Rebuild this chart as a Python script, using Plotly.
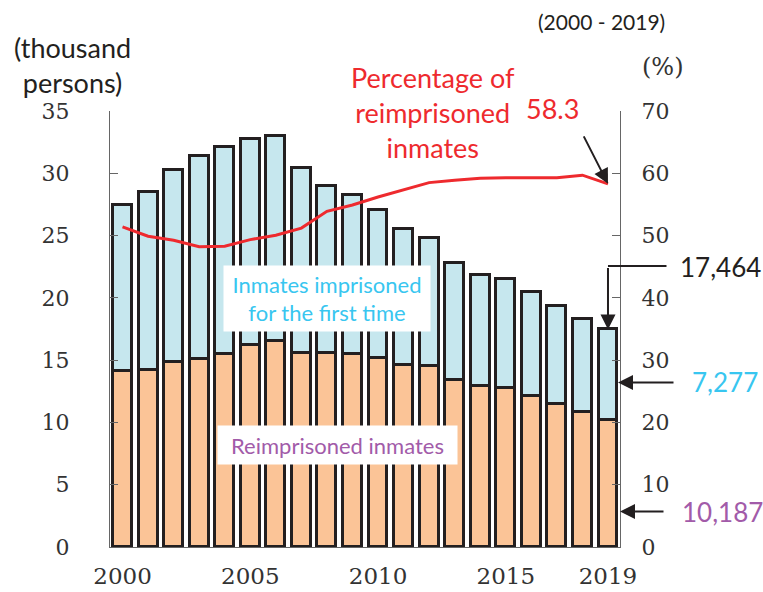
import plotly.graph_objects as go

years = list(range(2000, 2020))
reimprisoned = [14.11, 14.19, 14.86, 15.10, 15.53, 16.25, 16.52, 15.58, 15.61, 15.53,
                15.18, 14.65, 14.51, 13.39, 12.96, 12.77, 12.10, 11.44, 10.87, 10.187]
total = [27.49, 28.53, 30.28, 31.36, 32.09, 32.79, 33.03, 30.45, 28.96, 28.29,
         27.08, 25.50, 24.78, 22.76, 21.87, 21.54, 20.47, 19.34, 18.27, 17.464]
first_time = [round(t - r, 3) for t, r in zip(total, reimprisoned)]
reimp_rate = [51.4, 49.9, 49.25, 48.2, 48.3, 49.35, 50.05, 51.2, 53.9, 54.9,
              56.2, 57.4, 58.5, 58.9, 59.2, 59.3, 59.35, 59.3, 59.7, 58.3]
y_ticks = [0, 5, 10, 15, 20, 25, 30, 35]
y2_ticks = [0, 10, 20, 30, 40, 50, 60, 70]
x_ticks = [2000, 2005, 2010, 2015, 2019]

W, H = 763, 592
L, R, T, B = 110, 620, 111, 547


def pxx(x):
    return (x - L) / (R - L)


def pyy(y):
    return (B - y) / (B - T)


OUT = "#231F20"
ORANGE = "#FBC497"
BLUE = "#C6E7EE"
RED = "#EE2A2E"
SKY = "#38C6F0"
PURPLE = "#A25BA9"
AX = "#666666"
SANS = "Lato"
SERIF = "DejaVu Serif"

fig = go.Figure()
fig.add_trace(go.Bar(x=years, y=reimprisoned, width=0.74,
                     marker=dict(color=ORANGE, line=dict(color=OUT, width=3)),
                     showlegend=False))
fig.add_trace(go.Bar(x=years, y=first_time, width=0.74,
                     marker=dict(color=BLUE, line=dict(color=OUT, width=3)),
                     showlegend=False))
fig.add_trace(go.Scatter(x=years, y=reimp_rate, yaxis="y2", mode="lines",
                         line=dict(color=RED, width=3), showlegend=False))

ann = []


def text(x, y, t, size, color, family=SANS, xanchor="center", **kw):
    ann.append(dict(x=pxx(x), y=pyy(y), xref="paper", yref="paper", text=t,
                    showarrow=False, xanchor=xanchor, yanchor="middle",
                    font=dict(family=family, size=size, color=color), **kw))


text(72, 65, "(thousand<br>persons)", 27, OUT)
text(601, 21, "(2000 - 2019)", 21, OUT)
text(663, 67, "(%)", 24, "#333333", family=SERIF)
text(433, 113, "Percentage of<br>reimprisoned<br>inmates", 27, RED)
text(552, 108, "58.3", 27, RED)
text(678, 267, "17,464", 26, OUT, xanchor="left")
text(690, 382, "7,277", 26, SKY, xanchor="left")
text(680, 512, "10,187", 26, PURPLE, xanchor="left")
text(327, 298, "Inmates imprisoned<br>for the first time", 22, SKY,
     bgcolor="white", width=198, height=57, borderpad=4)
text(337, 445, "Reimprisoned inmates", 22, PURPLE,
     bgcolor="white", width=231, height=30, borderpad=4)

# arrows
ann.append(dict(x=years[-1], y=reimp_rate[-1], xref="x", yref="y2", text="",
                showarrow=True, ax=-25, ay=-49, arrowhead=2, arrowsize=1.5,
                arrowwidth=2, arrowcolor=OUT))
ann.append(dict(x=years[-1], y=total[-1], xref="x", yref="y", text="",
                showarrow=True, ax=0, ay=-63, arrowhead=2, arrowsize=1.5,
                arrowwidth=2, arrowcolor=OUT))
ann.append(dict(x=years[-1], y=pyy(266), xref="x", yref="paper", text="",
                showarrow=True, ax=60, ay=0, arrowhead=0,
                arrowwidth=2, arrowcolor=OUT))
ann.append(dict(x=pxx(618), y=pyy(382.5), xref="paper", yref="paper", text="",
                showarrow=True, ax=57, ay=0, arrowhead=2, arrowsize=1.5,
                arrowwidth=2, arrowcolor=OUT))
ann.append(dict(x=pxx(620), y=pyy(511.5), xref="paper", yref="paper", text="",
                showarrow=True, ax=45, ay=0, arrowhead=2, arrowsize=1.5,
                arrowwidth=2, arrowcolor=OUT))

fig.update_layout(
    width=W, height=H,
    margin=dict(l=L, r=W - R, t=T, b=H - B, autoexpand=False),
    paper_bgcolor="white", plot_bgcolor="white",
    barmode="stack", bargap=0,
    annotations=ann,
    xaxis=dict(range=[1999.51, 2019.47], tickvals=x_ticks, showgrid=False,
               zeroline=False, showline=True, linecolor=AX, linewidth=1.3,
               ticks="", tickfont=dict(family=SERIF, size=23, color="#333333"),
               ticklabelstandoff=8, automargin=False),
    yaxis=dict(range=[0, 35], tickvals=y_ticks, showgrid=False, zeroline=False,
               showline=True, linecolor=AX, linewidth=1.3, ticks="inside",
               ticklen=8, tickcolor=AX, tickwidth=1.3,
               tickfont=dict(family=SERIF, size=22, color="#333333"),
               ticklabelstandoff=35, automargin=False),
    yaxis2=dict(range=[0, 70], tickvals=y2_ticks, overlaying="y", side="right",
                showgrid=False, zeroline=False, showline=True, linecolor=AX,
                linewidth=1.3, ticks="inside", ticklen=8, tickcolor=AX,
                tickwidth=1.3,
                tickfont=dict(family=SERIF, size=22, color="#333333"),
                ticklabelstandoff=16, automargin=False),
)

fig.write_html("out.html", config={"displayModeBar": False},
               post_script="document.body.style.margin='0';"
                           "document.body.style.overflow='hidden';")
